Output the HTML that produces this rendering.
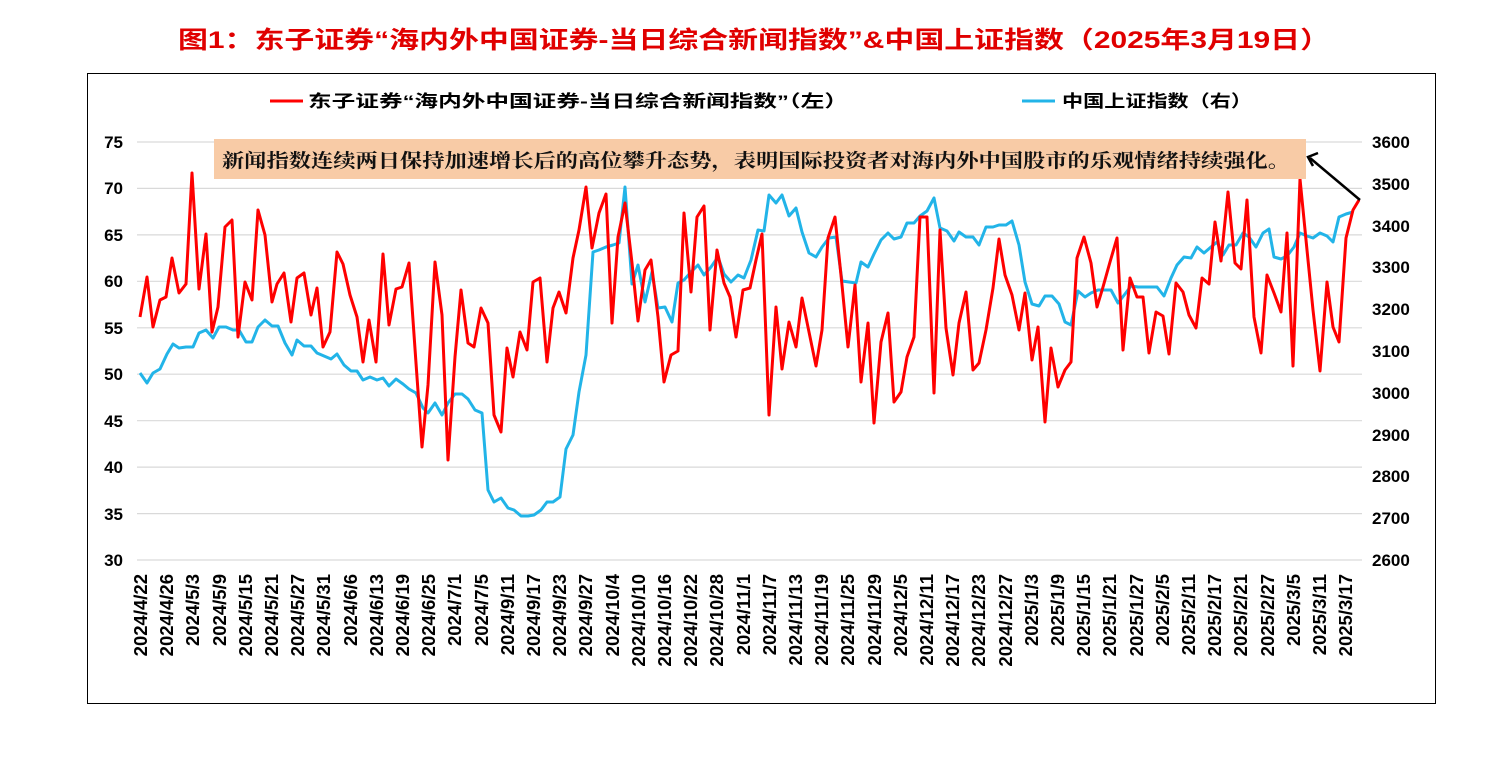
<!DOCTYPE html>
<html><head><meta charset="utf-8"><style>
body{margin:0;background:#fff;}
svg text{font-family:"Liberation Sans","Noto Sans CJK SC",sans-serif;font-weight:bold;}
</style></head><body>
<svg width="1509" height="760" xmlns="http://www.w3.org/2000/svg">
<rect width="1509" height="760" fill="#fff"/>
<text x="754" y="48" text-anchor="middle" font-size="24" fill="#e00000" textLength="1152" lengthAdjust="spacingAndGlyphs">图1：东子证券“海内外中国证券-当日综合新闻指数”&amp;中国上证指数（2025年3月19日）</text>
<rect x="87.5" y="73.5" width="1348" height="630" fill="none" stroke="#000" stroke-width="1"/>
<g stroke="#d9d9d9" stroke-width="1.2">
<line x1="137" x2="1362" y1="142" y2="142"/><line x1="137" x2="1362" y1="188.4" y2="188.4"/><line x1="137" x2="1362" y1="234.9" y2="234.9"/><line x1="137" x2="1362" y1="281.3" y2="281.3"/><line x1="137" x2="1362" y1="327.8" y2="327.8"/><line x1="137" x2="1362" y1="374.2" y2="374.2"/><line x1="137" x2="1362" y1="420.7" y2="420.7"/><line x1="137" x2="1362" y1="467.1" y2="467.1"/><line x1="137" x2="1362" y1="513.6" y2="513.6"/><line x1="137" x2="1362" y1="560" y2="560"/>
</g>
<g font-size="17" text-anchor="end" fill="#000">
<text x="123" y="148">75</text><text x="123" y="194">70</text><text x="123" y="241">65</text><text x="123" y="287">60</text><text x="123" y="334">55</text><text x="123" y="380">50</text><text x="123" y="427">45</text><text x="123" y="473">40</text><text x="123" y="520">35</text><text x="123" y="566">30</text>
</g>
<g font-size="17" fill="#000">
<text x="1372" y="148">3600</text><text x="1372" y="190">3500</text><text x="1372" y="232">3400</text><text x="1372" y="273">3300</text><text x="1372" y="315">3200</text><text x="1372" y="357">3100</text><text x="1372" y="399">3000</text><text x="1372" y="441">2900</text><text x="1372" y="482">2800</text><text x="1372" y="524">2700</text><text x="1372" y="566">2600</text>
</g>
<g font-size="18.5" fill="#000" text-anchor="end">
<text transform="translate(147,574) rotate(-90)">2024/4/22</text><text transform="translate(173,574) rotate(-90)">2024/4/26</text><text transform="translate(199,574) rotate(-90)">2024/5/3</text><text transform="translate(226,574) rotate(-90)">2024/5/9</text><text transform="translate(252,574) rotate(-90)">2024/5/15</text><text transform="translate(278,574) rotate(-90)">2024/5/21</text><text transform="translate(304,574) rotate(-90)">2024/5/27</text><text transform="translate(330,574) rotate(-90)">2024/5/31</text><text transform="translate(357,574) rotate(-90)">2024/6/6</text><text transform="translate(383,574) rotate(-90)">2024/6/13</text><text transform="translate(409,574) rotate(-90)">2024/6/19</text><text transform="translate(435,574) rotate(-90)">2024/6/25</text><text transform="translate(461,574) rotate(-90)">2024/7/1</text><text transform="translate(488,574) rotate(-90)">2024/7/5</text><text transform="translate(514,574) rotate(-90)">2024/9/11</text><text transform="translate(540,574) rotate(-90)">2024/9/17</text><text transform="translate(566,574) rotate(-90)">2024/9/23</text><text transform="translate(592,574) rotate(-90)">2024/9/27</text><text transform="translate(619,574) rotate(-90)">2024/10/4</text><text transform="translate(645,574) rotate(-90)">2024/10/10</text><text transform="translate(671,574) rotate(-90)">2024/10/16</text><text transform="translate(697,574) rotate(-90)">2024/10/22</text><text transform="translate(723,574) rotate(-90)">2024/10/28</text><text transform="translate(750,574) rotate(-90)">2024/11/1</text><text transform="translate(776,574) rotate(-90)">2024/11/7</text><text transform="translate(802,574) rotate(-90)">2024/11/13</text><text transform="translate(828,574) rotate(-90)">2024/11/19</text><text transform="translate(854,574) rotate(-90)">2024/11/25</text><text transform="translate(881,574) rotate(-90)">2024/11/29</text><text transform="translate(907,574) rotate(-90)">2024/12/5</text><text transform="translate(933,574) rotate(-90)">2024/12/11</text><text transform="translate(959,574) rotate(-90)">2024/12/17</text><text transform="translate(985,574) rotate(-90)">2024/12/23</text><text transform="translate(1012,574) rotate(-90)">2024/12/27</text><text transform="translate(1038,574) rotate(-90)">2025/1/3</text><text transform="translate(1064,574) rotate(-90)">2025/1/9</text><text transform="translate(1090,574) rotate(-90)">2025/1/15</text><text transform="translate(1116,574) rotate(-90)">2025/1/21</text><text transform="translate(1143,574) rotate(-90)">2025/1/27</text><text transform="translate(1169,574) rotate(-90)">2025/2/5</text><text transform="translate(1195,574) rotate(-90)">2025/2/11</text><text transform="translate(1221,574) rotate(-90)">2025/2/17</text><text transform="translate(1247,574) rotate(-90)">2025/2/21</text><text transform="translate(1274,574) rotate(-90)">2025/2/27</text><text transform="translate(1300,574) rotate(-90)">2025/3/5</text><text transform="translate(1326,574) rotate(-90)">2025/3/11</text><text transform="translate(1352,574) rotate(-90)">2025/3/17</text>
</g>
<line x1="270" x2="303" y1="101" y2="101" stroke="#ff0000" stroke-width="3"/>
<text x="308" y="107" font-size="17" textLength="540" lengthAdjust="spacingAndGlyphs">东子证券“海内外中国证券-当日综合新闻指数”（左）</text>
<line x1="1022" x2="1055" y1="101" y2="101" stroke="#22b4e8" stroke-width="3"/>
<text x="1062" y="107" font-size="17" textLength="190" lengthAdjust="spacingAndGlyphs">中国上证指数（右）</text>
<polyline fill="none" stroke="#22b4e8" stroke-width="3" stroke-linejoin="round" points="140,373 147,383 153,373 160,369 167,354 173,344 179,348 186,347 193,347 199,333 206,330 213,338 219,327 226,327 233,330 239,330 246,342 252,342 258,327 265,320 272,326 278,326 285,343 292,355 297,340 304,346 311,346 317,353 324,356 331,359 337,354 344,365 351,371 357,371 363,380 370,377 377,380 383,378 389,386 396,379 403,384 409,389 416,393 423,408 428,413 435,403 442,415 448,403 455,394 462,394 468,399 475,410 482,413 488,490 494,502 501,498 508,508 514,510 521,516 528,516 534,515 541,510 547,502 553,502 560,497 566,449 573,435 579,392 586,355 593,252 599,250 606,247 613,245 619,243 625,187 632,284 638,265 645,302 652,272 658,308 665,307 672,322 678,283 684,280 691,272 698,265 704,275 711,267 718,257 724,274 731,282 738,275 744,278 751,260 758,230 764,231 769,195 776,203 782,195 789,216 796,208 802,232 809,253 816,257 822,247 829,238 836,237 842,281 849,282 856,283 861,262 868,267 874,254 881,240 888,233 894,239 901,237 907,223 914,223 920,216 927,211 934,198 940,228 947,231 954,241 959,232 966,237 973,237 979,245 986,227 993,227 999,225 1006,225 1012,221 1019,245 1025,282 1032,304 1039,306 1045,296 1052,296 1059,304 1065,322 1071,325 1078,291 1085,297 1091,293 1098,290 1105,290 1111,290 1118,303 1125,294 1131,286 1138,287 1145,287 1151,287 1157,287 1164,296 1171,278 1177,265 1184,257 1191,258 1197,247 1204,253 1211,247 1217,242 1223,255 1229,245 1236,245 1243,233 1249,237 1256,247 1263,233 1269,229 1274,257 1281,259 1287,256 1294,247 1300,233 1307,236 1313,238 1320,233 1327,236 1333,242 1339,217 1346,214 1353,212"/>
<polyline fill="none" stroke="#ff0000" stroke-width="3" stroke-linejoin="round" points="140,317 147,277 153,327 160,300 166,297 172,258 179,293 186,284 192,173 199,289 206,234 212,332 218,307 225,227 232,220 238,337 245,282 252,300 258,210 265,235 272,302 277,284 284,273 291,322 297,278 304,273 311,315 317,288 323,347 330,332 337,252 343,264 350,295 357,317 363,362 369,320 376,362 383,254 389,325 396,289 402,287 409,263 416,363 422,447 428,385 435,262 442,315 448,460 455,357 461,290 468,343 474,347 481,308 488,323 494,415 501,432 507,348 513,377 520,332 527,350 533,282 540,278 547,362 553,308 559,292 566,313 573,258 579,230 586,187 592,248 599,213 606,194 612,323 618,237 625,203 632,263 638,321 645,270 651,260 658,317 664,382 671,355 678,351 684,213 691,292 697,217 704,206 710,330 717,250 724,283 730,297 736,337 743,290 750,288 756,260 762,234 769,415 776,307 782,369 789,322 796,347 802,298 809,332 816,366 822,330 828,238 835,217 842,285 848,347 855,285 861,382 868,323 874,423 881,342 888,313 894,402 901,392 907,357 914,337 920,217 927,217 934,393 940,230 946,328 953,375 959,323 966,292 973,370 979,363 986,330 993,288 999,239 1005,275 1012,295 1019,330 1025,293 1032,360 1038,327 1045,422 1051,348 1058,387 1065,370 1071,362 1077,258 1084,237 1091,263 1097,307 1103,287 1110,262 1117,238 1123,350 1130,278 1137,297 1143,297 1149,353 1156,312 1163,316 1169,354 1176,283 1183,292 1189,315 1196,328 1202,278 1209,284 1215,222 1221,261 1228,192 1235,263 1241,269 1247,200 1254,317 1261,353 1267,275 1274,293 1281,312 1287,233 1293,366 1300,179 1307,250 1313,310 1320,371 1327,282 1333,327 1339,342 1346,238 1353,210 1359,200"/>
<rect x="214" y="139" width="1092" height="40" fill="#f8cba6"/>
<text x="222" y="167" font-size="19" fill="#111" textLength="1068" lengthAdjust="spacingAndGlyphs" style="font-family:'Noto Serif CJK SC',serif;font-weight:bold">新闻指数连续两日保持加速增长后的高位攀升态势，表明国际投资者对海内外中国股市的乐观情绪持续强化。</text>
<line x1="1360" y1="200" x2="1310" y2="158" stroke="#000" stroke-width="2.5"/>
<polyline points="1318,153 1308,157 1313,166" fill="none" stroke="#000" stroke-width="2.5"/>
</svg>
</body></html>
